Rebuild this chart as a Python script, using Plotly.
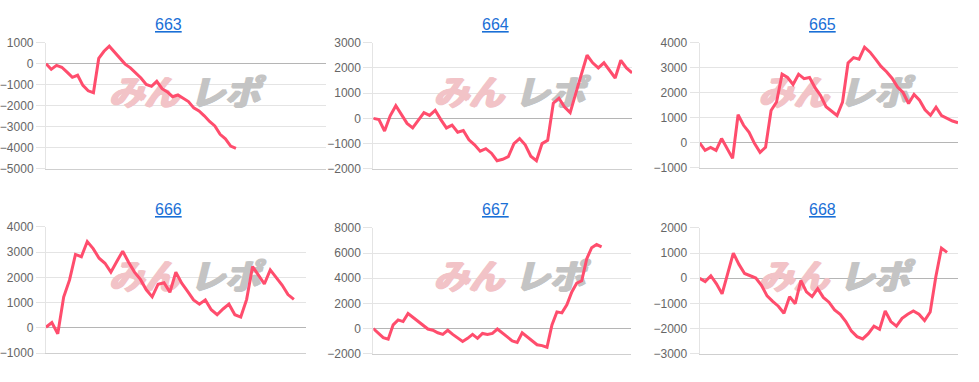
import plotly.graph_objects as go

# ---------------- data ----------------
titles = ["663", "664", "665", "666", "667", "668"]

s663 = [0, -270, -80, -170, -400, -650, -550, -1030, -1290, -1380, 250, 590, 830, 560, 300,
        -20, -200, -430, -680, -990, -1080, -840, -1190, -1340, -1570, -1490, -1640, -1800,
        -2100, -2250, -2480, -2750, -2960, -3360, -3570, -3920, -4030]
s664 = [0, -50, -500, 100, 500, 150, -200, -380, -50, 230, 120, 320, -50, -380, -270, -550,
        -480, -850, -1050, -1300, -1200, -1380, -1680, -1620, -1520, -1000, -800, -1050, -1500,
        -1680, -1000, -870, 600, 800, 450, 230, 1000, 1800, 2500, 2200, 2000, 2200, 1900, 1600,
        2300, 2000, 1800]
s665 = [0, -300, -180, -300, 170, -220, -620, 1120, 700, 420, -30, -380, -180, 1290, 1630,
        2740, 2610, 2330, 2740, 2560, 2610, 2200, 1890, 1440, 1250, 1090, 1630, 3190, 3400,
        3340, 3820, 3620, 3340, 3050, 2840, 2580, 2230, 2010, 1570, 1930, 1700, 1320, 1100,
        1420, 1090, 970, 870, 800]
s666 = [25, 215, -230, 1220, 1900, 2910, 2820, 3420, 3140, 2760, 2560, 2210, 2630, 3040, 2600,
        2210, 1920, 1510, 1230, 1730, 1790, 1410, 2210, 1770, 1450, 1110, 940, 1110, 720, 520,
        750, 940, 520, 430, 1130, 2430, 2090, 1740, 2300, 2000, 1700, 1320, 1130]
s667 = [0, -380, -710, -840, 300, 690, 560, 1200, 890, 560, 260, -30, -130, -330, -460, -130,
        -460, -770, -1020, -770, -460, -770, -380, -460, -380, -30, -380, -660, -970, -1100,
        -330, -660, -970, -1280, -1350, -1480, 300, 1330, 1250, 1890, 2910, 3620, 3800, 5540,
        6430, 6680, 6500]
s668 = [0, -130, 100, -220, -620, 170, 1000, 550, 190, 100, 10, -280, -700, -920, -1110, -1390,
        -730, -1010, -90, -540, -730, -410, -760, -950, -1260, -1430, -1720, -2100, -2320,
        -2410, -2200, -1900, -2030, -1300, -1720, -1900, -1590, -1430, -1300, -1430, -1680,
        -1340, 60, 1200, 1030]
series = [s663, s664, s665, s666, s667, s668]

# watermark text (logo), split in its two coloured halves
wm_parts = ["みん", "レポ"]

# number of category slots on each x axis (last label sits on the right edge)
x_slots = [53, 46, 47, 44, 52, 46]
# y axis ranges and tick step
y_ranges = [(-5000, 1000), (-2000, 3000), (-1000, 4000), (-1000, 4000), (-2000, 8000), (-3000, 2000)]
y_steps = [1000, 1000, 1000, 1000, 2000, 1000]

# ---------------- layout (pixels) ----------------
W, H = 979, 382
# plot areas: left, right, top, bottom
boxes = [(45, 325, 37, 168), (372.7, 631.7, 37, 168), (699.3, 958, 37, 167),
         (45, 305, 228.3, 359.3), (372.7, 631, 229.3, 360), (699.3, 958.3, 229.3, 360)]
panel_off = [(0, 0), (325, 0), (650, 0), (0, 191), (325, 191), (650, 191)]
title_pos = [(168, 18), (495, 18), (822, 18), (168, 210), (495, 210), (822, 210)]
wm_dx = [143, 224]   # centre of each watermark half inside a panel (px)
wm_dy = 93
wm_colors = ["#f2c3c7", "#c4c4c4"]

LINE = "#ff4d6d"
GRID = "#e4e4e4"
TICKFONT = dict(family="Liberation Sans, Arial, sans-serif", size=12, color="#666666")

fig = go.Figure()
layout = dict(width=W, height=H, margin=dict(l=0, r=0, t=0, b=0),
              paper_bgcolor="white", plot_bgcolor="white", showlegend=False,
              annotations=[])

for i in range(6):
    k = "" if i == 0 else str(i + 1)
    l, r, t, b = boxes[i]
    y0, y1 = y_ranges[i]
    xmax = x_slots[i]
    layout["xaxis" + k] = dict(domain=[l / W, r / W], range=[0, xmax], anchor="y" + k,
                               showgrid=False, zeroline=False, showticklabels=False,
                               ticks="", showline=True, linecolor="#cfcfcf", linewidth=1,
                               fixedrange=True)
    layout["yaxis" + k] = dict(domain=[1 - b / H, 1 - t / H], range=[y0, y1], anchor="x" + k,
                               dtick=y_steps[i], tick0=0, showgrid=True, gridcolor=GRID,
                               gridwidth=1, zeroline=True, zerolinecolor="#b5b5b5",
                               zerolinewidth=1, showline=True, linecolor=GRID, linewidth=1,
                               ticks="outside", ticklen=9, tickcolor=GRID, tickfont=TICKFONT,
                               fixedrange=True)

    # watermark (drawn first so the line sits above it)
    ox, oy = panel_off[i]
    for j, part in enumerate(wm_parts):
        wx, wy = ox + wm_dx[j], oy + wm_dy
        wxd = (wx - l) / (r - l) * xmax
        wyd = y0 + (b - wy) / (b - t) * (y1 - y0)
        c = wm_colors[j]
        fig.add_trace(go.Scatter(
            x=[wxd], y=[wyd], xaxis="x" + k, yaxis="y" + k, mode="text",
            text=["<i>" + part + "</i>"],
            textfont=dict(family="Noto Sans CJK JP", size=35, color=c, weight="bold",
                          shadow=f"1px 0px 0px {c}, -1px 0px 0px {c}, 0px 1px 0px {c}, 2px 0px 0px {c}"),
            textposition="middle center", hoverinfo="skip", cliponaxis=False))

    vals = series[i]
    fig.add_trace(go.Scatter(
        x=list(range(len(vals))), y=vals, xaxis="x" + k, yaxis="y" + k, mode="lines",
        line=dict(color=LINE, width=3), hoverinfo="y", cliponaxis=False))

    tx, ty = title_pos[i]
    layout["annotations"].append(dict(
        text="<span style='text-decoration:underline'>" + titles[i] + "</span>",
        xref="paper", yref="paper", x=tx / W, y=1 - ty / H, xanchor="center", yanchor="middle",
        showarrow=False, font=dict(family="Liberation Sans, Arial, sans-serif", size=16,
                                   color="#1a6fd6")))

fig.update_layout(**layout)
fig.write_html("out.html")
